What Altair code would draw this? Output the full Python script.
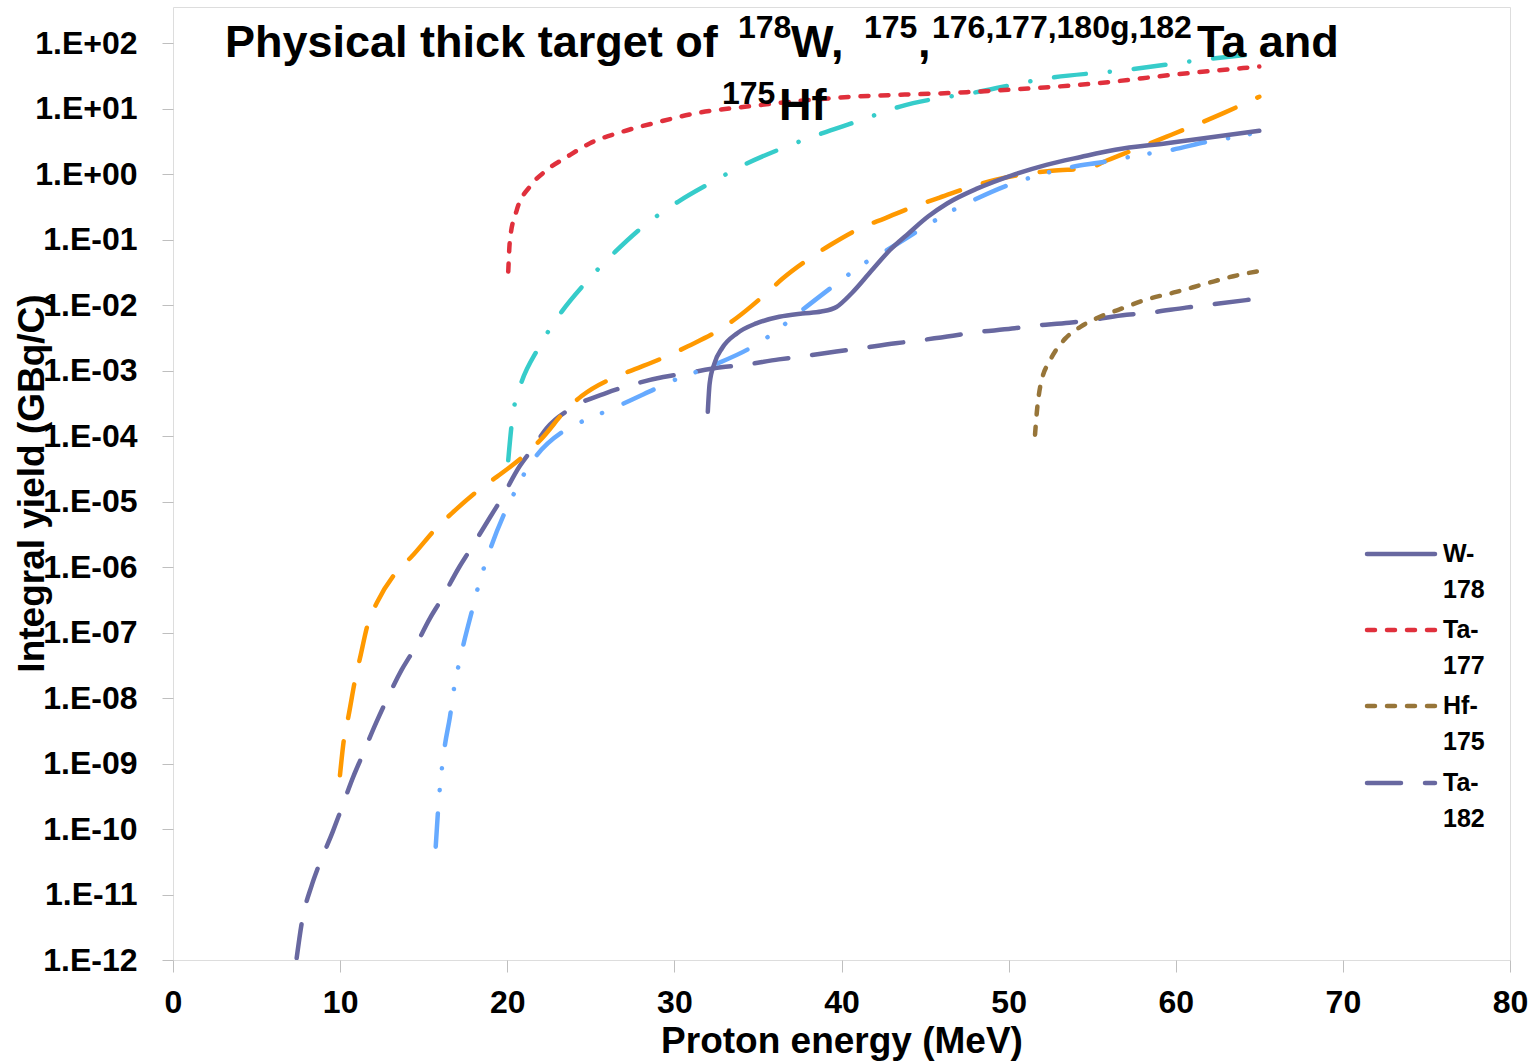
import altair as alt
import pandas as pd

# ---------------- data (proton energy in MeV, log10 of integral yield in GBq/C) ----------------
w178_E = [32.0, 32.11, 32.40, 32.85, 33.76, 34.90, 36.28, 37.64, 38.79, 39.70, 40.61, 41.75,
          42.90, 44.04, 45.18, 46.32, 48.14, 50.20, 52.26, 54.32, 56.38, 59.46, 65.0]
w178_lg = [-3.63, -3.20, -2.89, -2.66, -2.43, -2.28, -2.18, -2.13, -2.10, -2.03, -1.82, -1.49,
           -1.16, -0.90, -0.65, -0.45, -0.22, -0.02, 0.14, 0.26, 0.37, 0.47, 0.66]

ta177_E = [20.06, 20.16, 20.57, 21.36, 22.36, 23.56, 24.95, 26.94, 29.14, 31.34, 34.33, 39.49,
           47.51, 55.47, 60.0, 65.0]
ta177_lg = [-1.49, -1.01, -0.55, -0.19, 0.06, 0.26, 0.47, 0.65, 0.80, 0.93, 1.03, 1.16,
            1.25, 1.39, 1.52, 1.64]

hf175_E = [51.58, 51.69, 51.81, 52.03, 52.38, 52.83, 53.40, 54.32, 55.46, 56.60, 58.20, 60.03,
           61.85, 63.45, 65.0]
hf175_lg = [-3.98, -3.63, -3.37, -3.095, -2.89, -2.69, -2.51, -2.33, -2.18, -2.07, -1.92, -1.80,
            -1.67, -1.56, -1.48]

ta182_E = [7.40, 7.70, 8.30, 8.69, 9.56, 9.99, 10.79, 11.29, 12.15, 12.69, 13.68, 14.34, 15.38,
           16.02, 17.13, 17.77, 18.97, 19.60, 20.72, 21.46, 22.36, 23.90, 25.95, 27.15, 29.34,
           30.55, 32.81, 33.99, 36.25, 37.47, 39.69, 40.86, 43.24, 44.50, 46.67, 47.92, 50.20,
           51.34, 53.63, 54.89, 57.06, 58.32, 60.6, 61.85, 65.0]
ta182_lg = [-11.97, -11.44, -10.86, -10.58, -10.04, -9.75, -9.20, -8.90, -8.38, -8.08, -7.57,
            -7.29, -6.78, -6.51, -6.00, -5.74, -5.24, -4.98, -4.47, -4.21, -3.88, -3.565, -3.34,
            -3.24, -3.10, -3.05, -2.95, -2.92, -2.83, -2.79, -2.71, -2.67, -2.585, -2.545, -2.47,
            -2.42, -2.36, -2.32, -2.27, -2.23, -2.15, -2.12, -2.04, -2.00, -1.90]

cyan_E = [20.06, 20.27, 20.46, 20.86, 21.86, 23.26, 24.65, 26.45, 28.14, 30.24, 32.13, 34.33,
          36.42, 38.82, 40.91, 43.50, 48.29, 52.28, 57.07, 61.45, 65.0]
cyan_lg = [-4.37, -3.81, -3.49, -3.17, -2.66, -2.10, -1.67, -1.19, -0.80, -0.42, -0.14, 0.16,
           0.39, 0.62, 0.80, 1.03, 1.26, 1.46, 1.59, 1.74, 1.84]

blue_E = [15.72, 15.87, 16.11, 16.27, 16.57, 16.83, 17.09, 17.37, 17.93, 18.25, 18.62, 19.03,
          19.87, 20.42, 21.03, 21.76, 23.46, 24.55, 25.75, 26.91, 28.94, 30.14, 31.32, 32.5,
          34.52, 35.58, 36.62, 37.59, 39.41, 40.37, 41.45, 42.67, 44.50, 45.59, 46.69, 47.81,
          49.87, 51.12, 52.31, 53.63, 55.81, 57.01, 58.32, 59.79, 61.85, 63.65, 65.0]
blue_lg = [-10.27, -9.68, -9.03, -8.72, -8.29, -7.83, -7.50, -7.19, -6.63, -6.31, -6.00, -5.69,
           -5.16, -4.87, -4.57, -4.295, -3.91, -3.77, -3.64, -3.51, -3.27, -3.13, -3.02, -2.90,
           -2.66, -2.49, -2.29, -2.09, -1.73, -1.545, -1.35, -1.17, -0.88, -0.71, -0.55, -0.41,
           -0.18, -0.07, 0.02, 0.10, 0.19, 0.25, 0.31, 0.37, 0.49, 0.57, 0.64]

orange_E = [9.99, 10.25, 10.49, 10.89, 11.19, 11.69, 12.19, 13.39, 14.28, 15.78, 16.68, 18.37,
            19.39, 21.18, 22.06, 23.56, 24.45, 26.45, 27.64, 29.74, 30.81, 32.69, 33.76, 35.55,
            36.46, 38.26, 39.35, 41.27, 42.56, 44.61, 45.87, 47.92, 49.18, 51.24, 52.60, 54.77,
            55.91, 57.50, 59.46, 62.85, 65.0]
orange_lg = [-9.18, -8.59, -8.29, -7.73, -7.39, -6.84, -6.55, -6.07, -5.84, -5.40, -5.18, -4.81,
             -4.62, -4.26, -4.04, -3.59, -3.39, -3.10, -2.98, -2.76, -2.63, -2.38, -2.19, -1.81,
             -1.60, -1.26, -1.08, -0.81, -0.68, -0.47, -0.36, -0.18, -0.09, 0.01, 0.05, 0.09,
             0.21, 0.37, 0.57, 0.93, 1.18]

x_ticks = [0, 10, 20, 30, 40, 50, 60, 70, 80]
y_ticks = [1e-12, 1e-11, 1e-10, 1e-9, 1e-8, 1e-7, 1e-6, 1e-5, 1e-4, 1e-3, 1e-2, 1e-1, 1e0, 1e1, 1e2]
legend_names = ["W-178", "Ta-177", "Hf-175", "Ta-182"]

FONT = "Liberation Sans"
PURPLE = "#6868A0"

series = [
    ("Ta-182", ta182_E, ta182_lg, PURPLE, [34, 24]),
    ("Ta-180g", orange_E, orange_lg, "#FF9900", [34, 24]),
    ("Ta-176", blue_E, blue_lg, "#66AAFF", [33, 23.5, 0.1, 22, 0.1, 23.5]),
    ("Ta-175", cyan_E, cyan_lg, "#36CCCA", [32, 24, 0.1, 24]),
    ("Hf-175", hf175_E, hf175_lg, "#977539", [8, 12]),
    ("Ta-177", ta177_E, ta177_lg, "#E0303C", [8, 12]),
    ("W-178", w178_E, w178_lg, PURPLE, None),
]
style = {name: (col, dash) for name, _, _, col, dash in series}

x_scale = alt.Scale(domain=[0, 80], nice=False, zero=False)
y_scale = alt.Scale(type="log", domain=[1e-12, 10 ** 2.55], nice=False)

label_expr = ("'1.E' + (round(log(datum.value)/LN10) < 0 ? '-' : '+') + "
              "(abs(round(log(datum.value)/LN10)) < 10 ? '0' : '') + "
              "abs(round(log(datum.value)/LN10))")

x_axis = alt.Axis(values=x_ticks, title="Proton energy (MeV)", grid=False, domain=False,
                  tickSize=12, tickColor="#bfbfbf", tickWidth=1,
                  labelFont=FONT, labelFontSize=32, labelFontWeight="bold", labelColor="black",
                  labelPadding=15, labelFlush=False, labelOverlap=False,
                  titleFont=FONT, titleFontSize=37, titleFontWeight="bold", titleColor="black",
                  titleX=668.5, titleY=92, titleBaseline="alphabetic", titleAlign="center")
y_axis = alt.Axis(values=y_ticks, labelExpr=label_expr, title="Integral yield (GBq/C)",
                  grid=False, domain=False, tickSize=11, tickColor="#bfbfbf", tickWidth=1,
                  labelFont=FONT, labelFontSize=32, labelFontWeight="bold", labelColor="black",
                  labelPadding=25, labelFlush=False, labelOverlap=False,
                  titleFont=FONT, titleFontSize=37, titleFontWeight="bold", titleColor="black",
                  titleAngle=270, titleX=-130, titleY=476, titleBaseline="alphabetic",
                  titleAlign="center")

layers = []
for name, E, lg, col, dash in series:
    df = pd.DataFrame({"E": E, "Y": [10 ** v for v in lg], "series": name})
    mk = dict(color=col, strokeWidth=4.5, strokeCap="round", interpolate="monotone", clip=True)
    if dash:
        mk["strokeDash"] = dash
    layers.append(
        alt.Chart(df).mark_line(**mk).encode(
            x=alt.X("E:Q", scale=x_scale, axis=x_axis),
            y=alt.Y("Y:Q", scale=y_scale, axis=y_axis),
        )
    )

dummy = pd.DataFrame({"k": [0]})

# title with superscripts
title_parts = [
    ("Physical thick target of", 52, 50, 45),
    ("178", 565, 31, 32),
    ("W,", 618, 50, 45),
    ("175", 691, 31, 32),
    (",", 745, 50, 45),
    ("176,177,180g,182", 759, 31, 32),
    ("Ta and", 1024, 50, 45),
    ("175", 549, 97, 32),
    ("Hf", 606, 113, 45),
]
for txt, tx, ty, fs in title_parts:
    layers.append(
        alt.Chart(dummy).mark_text(text=txt, align="left", baseline="alphabetic", font=FONT,
                                   fontSize=fs, fontWeight="bold", color="black")
        .encode(x=alt.value(tx), y=alt.value(ty))
    )

# legend (only four entries, wrapped labels)
leg_y = [547, 623, 699, 776]
for name, ly in zip(legend_names, leg_y):
    col, dash = style[name]
    mk = dict(color=col, strokeWidth=4.5, strokeCap="round")
    if dash:
        mk["strokeDash"] = dash
    layers.append(
        alt.Chart(dummy).mark_rule(**mk).encode(
            x=alt.value(1194), x2=alt.value(1262), y=alt.value(ly))
    )
    first, second = name.split("-")
    for line_txt, dy in ((first + "-", 0), (second, 36)):
        layers.append(
            alt.Chart(dummy).mark_text(text=line_txt, align="left", baseline="middle", font=FONT,
                                       fontSize=25, fontWeight="bold", color="black")
            .encode(x=alt.value(1270), y=alt.value(ly + dy))
        )

chart = (
    alt.layer(*layers)
    .properties(width=1337, height=953, autosize=alt.AutoSizeParams(type="none"),
                padding={"left": 173, "top": 7, "right": 23, "bottom": 101})
    .configure_view(stroke="#1a1a1a", strokeWidth=2)
    .configure(background="white")
)

chart.save("out.html", embed_options={"renderer": "svg", "actions": False})
